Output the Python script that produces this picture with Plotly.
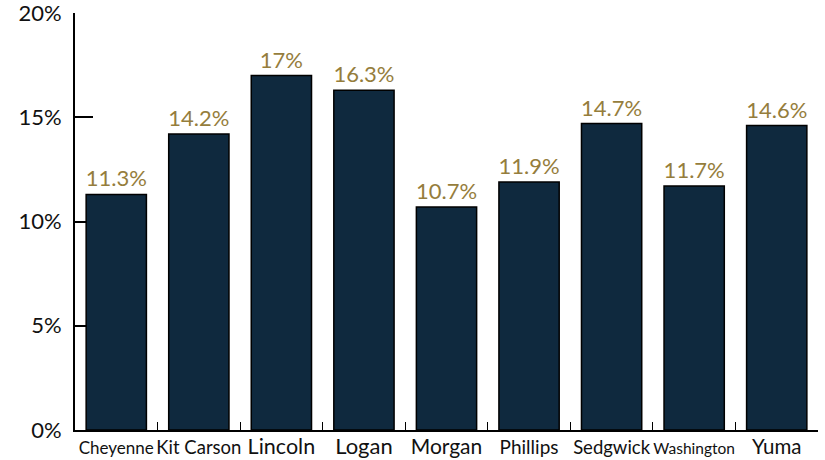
import plotly.graph_objects as go

counties = ["Cheyenne", "Kit Carson", "Lincoln", "Logan", "Morgan",
            "Phillips", "Sedgwick", "Washington", "Yuma"]
values = [11.3, 14.2, 17.0, 16.3, 10.7, 11.9, 14.7, 11.7, 14.6]
y_ticks = [0, 5, 10, 15, 20]
y_tick_labels = ["0%", "5%", "10%", "15%", "20%"]

# per-label font sizes (style only), mimicking auto-fit labels
label_sizes = {"Cheyenne": 17, "Kit Carson": 18.5, "Lincoln": 21.5, "Logan": 22,
               "Morgan": 21, "Phillips": 19, "Sedgwick": 18.5,
               "Washington": 15.5, "Yuma": 20.5}
tick_text = [f'<span style="font-size:{label_sizes[c]}px">{c}</span>' for c in counties]

FONT = "Lato, sans-serif"

fig = go.Figure(go.Bar(
    x=counties, y=values,
    marker=dict(color="#0f293e", line=dict(color="#000000", width=1.5)),
    text=[f"{v:g}%" for v in values],
    textposition="outside",
    constraintext="none",
    textfont=dict(color="#957d3c", size=22, family=FONT),
    cliponaxis=False,
))

fig.update_layout(
    width=825, height=460,
    margin=dict(l=75, r=7, t=13, b=30, autoexpand=False),
    plot_bgcolor="white", paper_bgcolor="white",
    bargap=0.27,
    showlegend=False,
    font=dict(family=FONT, color="#111111"),
    xaxis=dict(
        tickmode="array", tickvals=counties, ticktext=tick_text,
        tickangle=0, automargin=False, ticklabeloverflow="allow",
        showline=True, linecolor="#000000", linewidth=2,
        ticks="inside", ticklen=8, tickwidth=1, tickcolor="#000000",
        tickson="boundaries", showgrid=False,
        tickfont=dict(size=18, color="#111111"),
        layer="below traces",
    ),
    yaxis=dict(
        range=[0, 20], tickvals=y_ticks, ticktext=y_tick_labels,
        automargin=False, ticklabeloverflow="allow", ticklabelstandoff=7,
        showline=True, linecolor="#000000", linewidth=2,
        ticks="inside", ticklen=18, tickwidth=2, tickcolor="#000000",
        showgrid=False, zeroline=False,
        tickfont=dict(size=22, color="#111111"),
        layer="below traces",
    ),
)

fig.write_html("out.html", config={"displayModeBar": False},
               post_script="document.body.style.margin='0';")
